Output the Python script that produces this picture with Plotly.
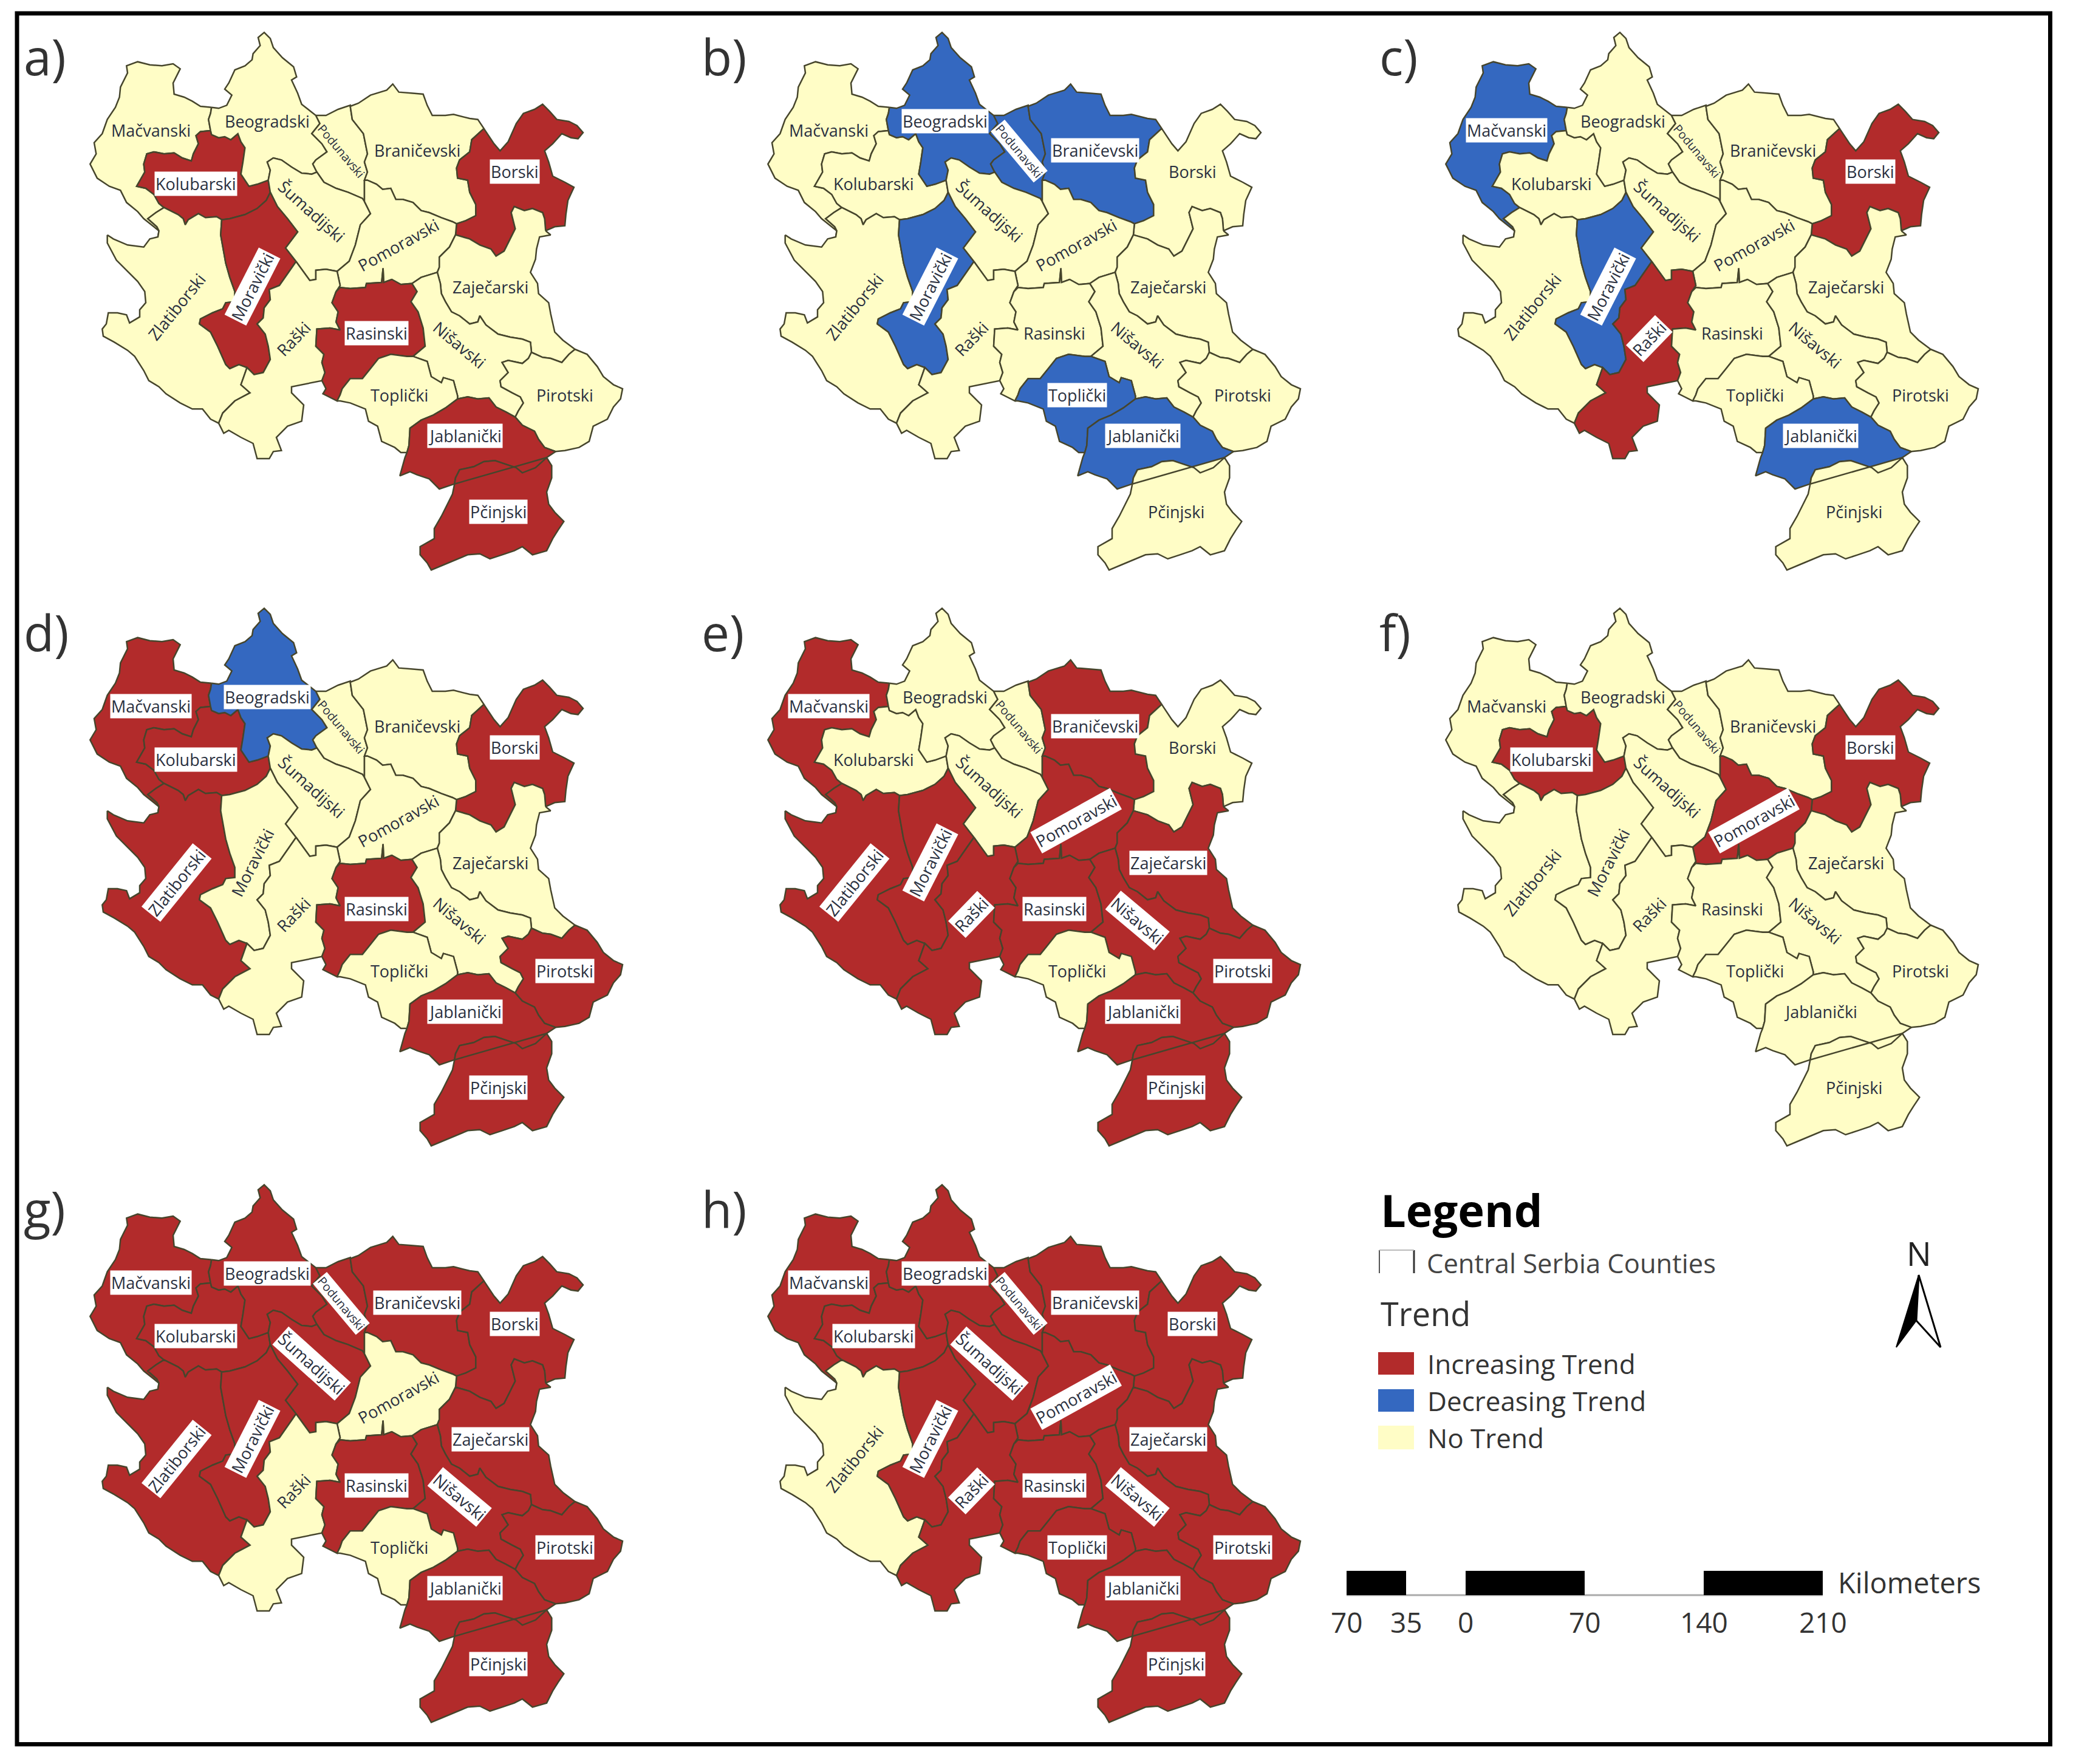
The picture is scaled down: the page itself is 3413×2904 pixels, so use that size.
import plotly.graph_objects as go


# outlines were traced from four 3x crops of panel a), each with its own origin
def z1(*pts):
    return [(130 + x / 3, 40 + y / 3) for x, y in pts]


def z2(*pts):
    return [(560 + x / 3, 120 + y / 3) for x, y in pts]


def z3(*pts):
    return [(130 + x / 3, 400 + y / 3) for x, y in pts]


def z4(*pts):
    return [(560 + x / 3, 480 + y / 3) for x, y in pts]


def rev(chain):
    return chain[::-1]


# --- shared county borders ---
mac_outer = z1((655,410),(600,405),(560,380),(520,360),(470,345),(465,290),(500,220),(465,195),(410,205),(350,200),(290,185),(235,205),(240,240),(205,310),(200,360),(180,410),(140,470),(115,540),(75,585),(85,640),(55,690),(90,760),(150,800),(205,820),(235,880),(290,925),(320,960),(370,1000),(395,1020),(390,1050))
zlat_mac = z1((390,1050),(395,1020),(385,1000),(340,960),(380,930),(420,905))
mac_kol = z1((420,905),(395,885),(370,840),(330,810),(285,800),(325,730),(320,690),(335,640),(370,630),(420,640),(470,635),(510,660),(555,675),(565,640),(590,590),(578,550),(600,530),(650,525))
mac_beo = z1((650,525),(640,470),(650,440),(655,410))
kol_beo = z1((650,525),(655,545),(690,560),(720,555),(750,570),(785,540),(800,580),(820,610),(810,680),(800,740),(840,800),(880,790),(935,770))
kol_sum = z1((935,770),(945,830))
kol_mor = z1((945,830),(925,870),(880,910),(820,940),(745,960),(705,965))
kol_zlat = z1((705,965),(680,950),(625,955),(590,935),(540,965),(525,990),(515,960),(490,940),(420,905))
beo_outer = z1((655,410),(690,415),(730,400),(755,350),(720,320),(740,290),(770,225),(820,205),(855,175),(860,145),(895,105),(885,65),(915,40),(945,70),(960,115),(1005,165),(1060,210),(1075,260),(1050,275),(1080,340),(1100,395),(1170,450))
beo_pod = z1((1170,450),(1190,490),(1150,540),(1200,590),(1225,630),(1170,670),(1155,690),(1175,730))
beo_sum = z1((1175,730),(1150,740),(1100,735),(1050,705),(1000,670),(960,660),(930,680),(945,720),(935,770))
pod_outer = z1((1170,450),(1220,450),(1280,420),(1340,400))
pod_bra = z2((50,165),(60,230),(115,300),(135,400),(120,440),(135,490),(120,530))
pod_pom = z2((120,530),(120,635))
pod_sum = z1((1175,730),(1210,780),(1270,810),(1330,830),(1400,860)) + z2((120,635))
bra_outer = z2((50,165),(90,150),(150,110),(230,85),(260,55),(290,95),(350,100),(410,105),(430,160),(455,210),(520,210),(560,205),(640,225),(680,230),(710,275))
bra_bor = z2((710,275),(650,330),(640,390),(590,430),(575,470),(580,520),(630,530),(640,590),(670,650),(670,705),(620,730),(575,745))
bra_pom = z2((575,745),(555,735),(500,715),(440,690),(400,680),(360,640),(310,625),(275,625),(250,570),(210,575),(180,550),(135,530),(120,530))
bor_outer = z2((710,275),(760,350),(790,385),(830,340),(870,250),(905,200),(960,180),(1000,155),(1035,190),(1070,230),(1130,240),(1170,260),(1200,295),(1175,325),(1140,320),(1095,300),(1050,350),(1010,385),(1030,440),(1050,510),(1110,540),(1155,565),(1125,630),(1115,700),(1110,755),(1060,760),(1015,780))
bor_zaj = z2((1015,780),(1010,720),(1000,690),(950,670),(910,680),(860,660),(845,690),(865,770),(830,840),(810,880),(770,905),(745,870),(690,850),(640,820),(570,800))
bor_pom = z2((570,800),(575,745))
sum_pom = z2((120,635),(150,695),(100,750),(75,850),(45,930)) + z1((1275,1220))
sum_rsk = z1((1275,1220),(1220,1210),(1170,1215),(1170,1260),(1140,1265),(1100,1210),(1075,1175))
sum_mor = z1((1075,1175),(1020,1105),(1080,1025),(1030,960),(980,900),(945,830))
pom_zaj = z2((570,800),(540,860),(490,910),(490,960),(480,985))
pom_nis = z2((480,985),(400,1010),(355,1040))
pom_ras = z2((355,1040),(300,1045),(255,1020),(215,1035),(212,965),(205,1035),(130,1040),(125,1060),(50,1065),(0,1060)) + z1((1270,1320))
pom_rsk = z1((1270,1320),(1290,1290),(1275,1220))
zaj_outer = z2((1015,780),(1040,800),(985,810),(970,870),(965,920),(940,985),(975,1040),(980,1090),(1030,1135),(1040,1190),(1060,1280),(1100,1320),(1160,1365))
zaj_pir = z4((1160,285),(1130,310),(1095,350),(1040,330),(1000,325),(945,300))
zaj_nis = z4((945,300),(940,250),(900,235),(840,225),(780,210),(720,165),(690,120),(680,150),(640,160),(590,120),(550,100),(520,50),(500,10),(495,-40),(480,-95))
zlat_north = z1((140,1040),(170,1060),(240,1090),(320,1100),(350,1060),(390,1050))
zlat_outer = z3((140,-40),(140,0),(185,85),(240,140),(290,190),(325,240),(330,295),(300,330),(300,365),(250,395),(235,355),(190,345),(145,345),(135,400),(115,425),(120,460),(175,490),(240,530),(275,560),(320,630),(345,680),(395,710),(430,745),(500,790),(560,820),(610,820),(650,870),(690,890))
zlat_rsk = z3((830,615),(800,700),(845,740),(770,780),(710,840),(690,890))
zlat_mor = z1((705,965),(700,1040)) + z3((725,100),(745,170),(770,240),(770,290),(725,295),(710,325),(660,345),(600,375),(595,400),(650,440),(685,510),(725,600),(745,620),(790,600),(830,615))
mor_rsk = z3((830,615),(865,650),(910,640),(945,575),(935,510),(920,450),(880,400),(910,370),(915,320),(945,280),(940,230),(990,210),(1025,160),(1070,95))
rsk_outer = z3((690,890),(715,940),(740,925),(800,960),(860,990),(880,1065),(940,1065),(960,1030),(1000,1025),(975,960),(1030,905),(1100,880),(1110,800),(1050,740),(1050,710),(1130,695),(1200,680))
rsk_ras = z3((1200,680),(1215,640),(1200,590),(1210,550),(1170,510),(1175,425),(1240,420),(1290,430),(1270,390),(1280,340),(1250,295),(1270,240))
ras_outer = z3((1200,680),(1220,720),(1205,745),(1275,780))
ras_nis = z2((355,1040),(380,1080),(350,1130),(385,1180),(410,1260),(420,1350),(360,1400))
ras_top = z4((360,320),(330,320),(250,310),(190,330),(150,380),(110,430),(50,430),(10,480),(0,510),(-15,540))
top_nis = z4((360,320),(430,345),(450,420),(500,450),(510,425),(560,440),(580,515),(580,530))
top_jab = z4((580,530),(520,575),(460,610),(400,635),(345,675),(340,760),(330,795))
top_outer = z4((-15,540),(0,540),(50,550),(90,565),(125,580),(140,640),(185,665),(205,740),(270,770),(300,795),(330,795))
nis_jab = z4((580,530),(630,520),(680,530),(735,525),(770,570),(820,595),(865,620))
nis_pir = z4((865,620),(880,590),(905,550),(890,520),(850,500),(795,470),(790,440),(830,400),(800,350),(830,340),(900,355),(930,330),(945,300))
pir_outer = z4((1160,285),(1220,310),(1270,370),(1300,420),(1350,460),(1395,480),(1385,530),(1350,570),(1320,630),(1250,665),(1230,740),(1180,770),(1110,785),(1065,790))
pir_jab = z4((1065,790),(1010,770),(980,730),(960,690),(900,660),(865,620))
jab_east = z4((1065,790),(1020,820))
jab_pci = z4((1020,820),(965,870),(900,895),(870,870),(810,850),(765,835),(710,840),(660,865),(590,880),(570,920),(565,950))
jab_outer = z4((565,950),(490,975),(440,925),(380,905),(345,890),(295,910),(320,820),(330,795))
pci_outer = z4((565,950),(555,1000),(530,1050),(500,1110),(465,1170),(465,1220),(395,1260),(395,1300),(430,1340),(450,1375),(510,1350),(570,1325),(630,1300),(690,1295),(740,1320),(800,1300),(860,1280),(900,1260),(950,1300),(1020,1280),(1050,1220),(1075,1180),(1105,1135),(1060,1090),(1030,1050),(1020,990),(1045,920),(1045,860),(1020,820))

# --- counties ---
counties = [
    "Mačvanski", "Kolubarski", "Beogradski", "Podunavski", "Braničevski", "Borski",
    "Šumadijski", "Pomoravski", "Zaječarski", "Zlatiborski", "Moravički", "Raški",
    "Rasinski", "Nišavski", "Toplički", "Pirotski", "Jablanički", "Pčinjski",
]
outlines = [
    mac_outer + zlat_mac + mac_kol + mac_beo,
    kol_beo + kol_sum + kol_mor + kol_zlat + mac_kol,
    beo_outer + beo_pod + beo_sum + rev(kol_beo) + mac_beo,
    pod_outer + pod_bra + pod_pom + rev(pod_sum) + rev(beo_pod),
    bra_outer + bra_bor + bra_pom + rev(pod_bra),
    bor_outer + bor_zaj + bor_pom + rev(bra_bor),
    rev(beo_sum) + pod_sum + sum_pom + sum_rsk + sum_mor + rev(kol_sum),
    rev(bra_pom) + rev(bor_pom) + pom_zaj + pom_nis + pom_ras + pom_rsk + rev(sum_pom) + rev(pod_pom),
    zaj_outer + zaj_pir + zaj_nis + rev(pom_zaj) + rev(bor_zaj),
    zlat_outer + rev(zlat_rsk) + rev(zlat_mor) + kol_zlat + rev(zlat_mac) + rev(zlat_north),
    rev(kol_mor) + rev(sum_mor) + rev(mor_rsk) + rev(zlat_mor),
    rsk_outer + rsk_ras + pom_rsk + sum_rsk + rev(mor_rsk) + zlat_rsk,
    rev(pom_ras) + ras_nis + ras_top + rev(ras_outer) + rsk_ras,
    rev(pom_nis) + rev(zaj_nis) + rev(nis_pir) + rev(nis_jab) + rev(top_nis) + rev(ras_nis),
    top_outer + rev(top_jab) + rev(top_nis) + ras_top,
    pir_outer + pir_jab + nis_pir + rev(zaj_pir),
    nis_jab + rev(pir_jab) + jab_east + jab_pci + jab_outer + rev(top_jab),
    pci_outer + rev(jab_pci),
]

label_x = [248, 322, 440, 562, 687, 847, 513, 655, 807, 290, 415, 483, 620, 757, 657, 930, 765, 820]
label_y = [214, 302, 199, 248, 247, 282, 347, 403, 472, 505, 472, 557, 548, 567, 650, 650, 717, 842]
label_angle = [0, 0, 0, 50, 0, 0, 42, -29, 0, -51, -63, -46, 0, 40, 0, 0, 0, 0]

panels = ["a)", "b)", "c)", "d)", "e)", "f)", "g)", "h)"]
increasing = [
    ["Kolubarski", "Moravički", "Rasinski", "Borski", "Jablanički", "Pčinjski"],
    [],
    ["Borski", "Raški"],
    ["Mačvanski", "Kolubarski", "Zlatiborski", "Rasinski", "Borski", "Pirotski", "Jablanički", "Pčinjski"],
    ["Mačvanski", "Zlatiborski", "Moravički", "Raški", "Braničevski", "Pomoravski", "Zaječarski",
     "Rasinski", "Nišavski", "Pirotski", "Jablanički", "Pčinjski"],
    ["Kolubarski", "Pomoravski", "Borski"],
    [c for c in counties if c not in ("Pomoravski", "Raški", "Toplički")],
    [c for c in counties if c != "Zlatiborski"],
]
decreasing = [
    [],
    ["Beogradski", "Podunavski", "Braničevski", "Moravički", "Toplički", "Jablanički"],
    ["Mačvanski", "Moravički", "Jablanički"],
    ["Beogradski"],
    [], [], [], [],
]

trend_names = ["Increasing Trend", "Decreasing Trend", "No Trend"]
scale_km = [-70, -35, 0, 70, 140, 210]
scale_labels = ["70", "35", "0", "70", "140", "210"]

# --- styling ---
RED = "#B22B2B"
BLUE = "#3468C0"
YELLOW = "#FFFDC6"
EDGE = "#46452c"
FONT = "Open Sans"
TEXT = "#2b2b2b"
W, H = 3413, 2904
BODY = 8  # the page's own body margin
COL_DX = [0, 1116, 2232]
ROW_DY = [0, 948, 1897]

fig = go.Figure()


def add_text(x, y, text, size, color=TEXT, angle=0, bold=False, anchor="left", bg=None):
    fig.add_annotation(
        x=x, y=y, text=f"<b>{text}</b>" if bold else text, showarrow=False, textangle=angle,
        xanchor=anchor, yanchor="middle", bgcolor=bg, borderpad=1,
        font=dict(family=FONT, size=size, color=color),
    )


for p, panel in enumerate(panels):
    dx = COL_DX[p % 3]
    dy = ROW_DY[p // 3]
    for name, outline in zip(counties, outlines):
        if name in increasing[p]:
            color = RED
        elif name in decreasing[p]:
            color = BLUE
        else:
            color = YELLOW
        xs = [pt[0] + dx for pt in outline]
        ys = [pt[1] + dy for pt in outline]
        fig.add_trace(go.Scatter(
            x=xs + xs[:1], y=ys + ys[:1], mode="lines", fill="toself", fillcolor=color,
            line=dict(color=EDGE, width=2.5), hoverinfo="skip", showlegend=False,
        ))
    for name, lx, ly, ang in zip(counties, label_x, label_y, label_angle):
        on_colour = name in increasing[p] or name in decreasing[p]
        size = 20 if name == "Podunavski" else 27
        add_text(lx + dx, ly + dy, name, size, color="#2a3040", angle=ang, anchor="center",
                 bg="#ffffff" if on_colour else None)
    add_text(37 + dx, 92 + dy, panel, 82, color="#333333")

# --- frame ---
fig.add_shape(type="rect", x0=28, y0=22, x1=3375.5, y1=2871.5, line=dict(color="black", width=7))

# --- legend ---
add_text(2271, 1991, "Legend", 74, color="black", bold=True)
fig.add_shape(type="line", x0=2271, x1=2271, y0=2058, y1=2096, line=dict(color="#555555", width=2))
fig.add_shape(type="line", x0=2328, x1=2328, y0=2058, y1=2096, line=dict(color="#333333", width=3))
fig.add_shape(type="line", x0=2271, x1=2328, y0=2058, y1=2058, line=dict(color="#bbbbbb", width=2))
add_text(2347, 2079, "Central Serbia Counties", 43.5, color="#444444")
add_text(2271, 2162, "Trend", 54, color="#333333")
swatch_y = [(2226, 2263), (2287, 2324), (2347, 2386)]
for (y0, y1), fill, name in zip(swatch_y, [RED, BLUE, YELLOW], trend_names):
    fig.add_shape(type="rect", x0=2269, x1=2328, y0=y0, y1=y1, fillcolor=fill, line=dict(width=0))
    add_text(2348, (y0 + y1) / 2, name, 44, color="#333333")

# --- north arrow ---
add_text(3159, 2063, "N", 54, color="#222222", anchor="center")
fig.add_shape(type="path", path="M 3159 2099 L 3122 2218 L 3155 2174 Z",
              fillcolor="black", line=dict(color="black", width=2))
fig.add_shape(type="path", path="M 3159 2099 L 3195 2218 L 3155 2174 Z",
              fillcolor="white", line=dict(color="black", width=3))

# --- scale bar ---
KM = (2609 - 2413) / 70
km_x = [2413 + k * KM for k in scale_km]
fig.add_shape(type="line", x0=km_x[0], x1=km_x[-1], y0=2626, y1=2626, line=dict(color="#aaaaaa", width=3))
for a, b in [(0, 1), (2, 3), (4, 5)]:
    fig.add_shape(type="rect", x0=km_x[a], x1=km_x[b], y0=2586, y1=2626, fillcolor="black", line=dict(width=0))
for x, lab in zip(km_x, scale_labels):
    add_text(x, 2670, lab, 46, color="#333333", anchor="center")
add_text(3024, 2605, "Kilometers", 47, color="#333333")

fig.update_layout(
    width=W - 2 * BODY, height=H - 2 * BODY, margin=dict(l=0, r=0, t=0, b=0),
    paper_bgcolor="white", plot_bgcolor="white", showlegend=False,
    xaxis=dict(range=[BODY, W - BODY], visible=False, fixedrange=True),
    yaxis=dict(range=[H - BODY, BODY], visible=False, fixedrange=True),
)

fig.write_html("out.html")
